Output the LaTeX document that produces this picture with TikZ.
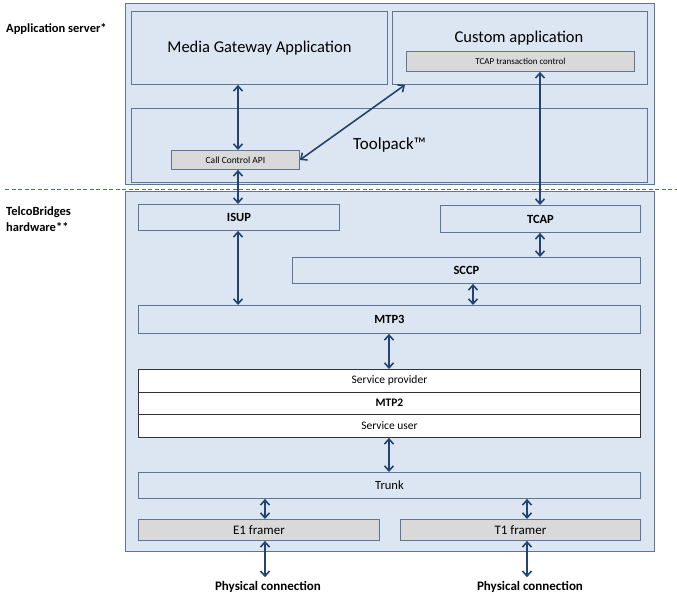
\documentclass[tikz,border=0pt]{standalone}
\usepackage{fontspec}
\setmainfont{Carlito}
\usetikzlibrary{arrows.meta}
\definecolor{boxfill}{HTML}{DCE6F2}
\definecolor{boxline}{HTML}{5F7594}
\definecolor{arrowc}{HTML}{23446E}
\definecolor{grayfill}{HTML}{D9D9D9}
\definecolor{dashc}{HTML}{4A6E9C}
\tikzset{
  box/.style={draw=boxline, fill=boxfill, line width=0.9pt, inner sep=0pt, anchor=north west, align=center},
  graybox/.style={draw=boxline, fill=grayfill, line width=0.9pt, inner sep=0pt, anchor=north west, align=center},
  whitebox/.style={draw=black!80, fill=white, line width=0.9pt, inner sep=0pt, anchor=north west, align=center},
  arr/.style={draw=arrowc, line width=1.6pt, {Straight Barb[length=5pt,width=9pt]}-{Straight Barb[length=5pt,width=9pt]}},
  sidelbl/.style={font=\bfseries\fontsize{12.5}{16}\selectfont, anchor=west, align=left, inner sep=0pt},
}
\newcommand{\bx}[6]{\node[#1, minimum width=#4pt, minimum height=#5pt] (#2) at (#3) {#6};}
\begin{document}
\begin{tikzpicture}[x=1pt,y=-1pt]
\useasboundingbox (0,0) rectangle (677,599);
% outer boxes
\bx{box}{appsrv}{125,3}{529}{181}{}
\bx{box}{hw}{125,191}{529}{360}{}
% dashed separator
\coordinate (dL) at (5,189);
\coordinate (dR) at (677,189);
\draw[dashc, dashed, line width=0.7pt, dash pattern=on 4pt off 2.5pt] (dL) -- (dR);
% application server
\bx{box}{mga}{131,11}{256}{73}{\fontsize{16.5}{19}\selectfont Media Gateway Application}
\bx{box}{custom}{392,11}{255}{73}{}
\node[font=\fontsize{16.5}{19}\selectfont, inner sep=0pt] (customlbl) at (519,38) {Custom application};
\bx{graybox}{tcaptc}{406,51}{228}{20}{\fontsize{9}{11}\selectfont TCAP transaction control}
\bx{box}{toolpack}{131,108}{516}{74}{\fontsize{17}{20}\selectfont Toolpack\texttrademark}
\bx{graybox}{cca}{171,150}{128}{19}{\fontsize{9.5}{11}\selectfont Call Control API}
% hardware
\bx{box}{isup}{138,204}{201}{26}{\bfseries\fontsize{12.5}{14}\selectfont ISUP}
\bx{box}{tcap}{440,205}{200}{27}{\bfseries\fontsize{12.5}{14}\selectfont TCAP}
\bx{box}{sccp}{292,257}{348}{26}{\bfseries\fontsize{12.5}{14}\selectfont SCCP}
\bx{box}{mtp3}{138,305}{502}{28}{\bfseries\fontsize{12.5}{14}\selectfont MTP3}
\bx{whitebox}{sp}{138,369}{502}{22.5}{\fontsize{11.5}{13}\selectfont Service provider}
\bx{whitebox}{mtp2}{138,391.5}{502}{22.5}{\bfseries\fontsize{11.5}{13}\selectfont MTP2}
\bx{whitebox}{su}{138,414}{502}{23}{\fontsize{11.5}{13}\selectfont Service user}
\bx{box}{trunk}{138,472}{502}{26}{\fontsize{12.5}{14}\selectfont Trunk}
\bx{graybox}{e1}{138,519}{241}{21}{\fontsize{13}{14}\selectfont E1 framer}
\bx{graybox}{t1}{400,519}{240}{21}{\fontsize{13}{14}\selectfont T1 framer}
% side labels
\node[sidelbl] (lblapp) at (6,29) {Application server*};
\node[sidelbl] (lblhw) at (6,219) {TelcoBridges\\hardware**};
\node[font=\bfseries\fontsize{13}{15}\selectfont, inner sep=0pt] (phys1) at (268,587) {Physical connection};
\node[font=\bfseries\fontsize{13}{15}\selectfont, inner sep=0pt] (phys2) at (530,587) {Physical connection};
% arrows
\draw[arr] (mga.south -| 238,0) -- (cca.north -| 238,0);
\draw[arr] (cca.south -| 238,0) -- (isup.north -| 238,0);
\draw[arr] (isup.south -| 238,0) -- (mtp3.north -| 238,0);
\draw[arr] (cca.east) -- (custom.south -| 405,0);
\draw[arr] (tcaptc.south -| 540,0) -- (tcap.north -| 540,0);
\draw[arr] (tcap.south -| 540,0) -- (sccp.north -| 540,0);
\draw[arr] (sccp.south -| 473,0) -- (mtp3.north -| 473,0);
\draw[arr] (mtp3.south -| 389,0) -- (sp.north -| 389,0);
\draw[arr] (su.south -| 389,0) -- (trunk.north -| 389,0);
\draw[arr] (trunk.south -| 265,0) -- (e1.north -| 265,0);
\draw[arr] (trunk.south -| 527,0) -- (t1.north -| 527,0);
\draw[arr] (e1.south -| 265,0) -- ([yshift=4pt]phys1.north -| 265,0);
\draw[arr] (t1.south -| 527,0) -- ([yshift=4pt]phys2.north -| 527,0);
\end{tikzpicture}
\end{document}
